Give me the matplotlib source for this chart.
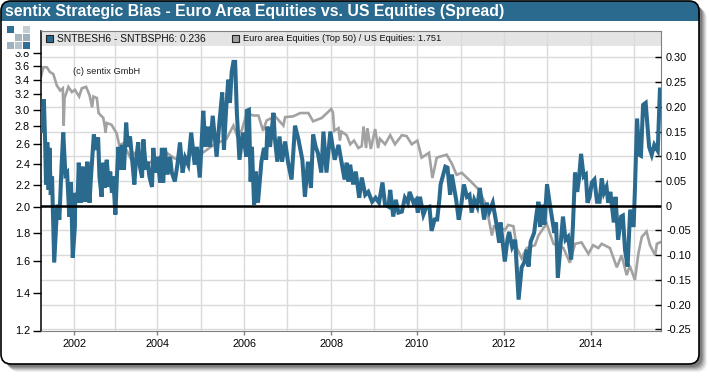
import matplotlib
matplotlib.use("Agg")
import matplotlib.pyplot as plt
from matplotlib.patches import FancyBboxPatch, Rectangle
from matplotlib.ticker import NullLocator

plt.rcParams["font.family"] = ["Liberation Sans", "DejaVu Sans"]

title = "sentix Strategic Bias - Euro Area Equities vs. US Equities (Spread)"
blue_label = "SNTBESH6 - SNTBSPH6: 0.236"
gray_label = "Euro area Equities (Top 50) / US Equities: 1.751"
credit = "(c) sentix GmbH"

blue_years = [
    2001.23, 2001.26, 2001.30, 2001.33, 2001.35, 2001.38, 2001.41, 2001.43, 2001.46, 2001.49,
    2001.54, 2001.58, 2001.61, 2001.66, 2001.71, 2001.75, 2001.80, 2001.84, 2001.89, 2001.93,
    2001.97, 2002.02, 2002.03, 2002.08, 2002.11, 2002.16, 2002.20, 2002.25, 2002.28, 2002.31,
    2002.36, 2002.39, 2002.46, 2002.51, 2002.56, 2002.59, 2002.64, 2002.68, 2002.72, 2002.76,
    2002.81, 2002.84, 2002.88, 2002.91, 2002.96, 2003.00, 2003.03, 2003.07, 2003.11, 2003.16,
    2003.21, 2003.25, 2003.30, 2003.35, 2003.40, 2003.44, 2003.49, 2003.53, 2003.58, 2003.61,
    2003.67, 2003.71, 2003.75, 2003.81, 2003.84, 2003.89, 2003.94, 2004.00, 2004.04, 2004.07,
    2004.11, 2004.17, 2004.23, 2004.27, 2004.34, 2004.40, 2004.46, 2004.52, 2004.58, 2004.65,
    2004.72, 2004.80, 2004.85, 2004.92, 2005.00, 2005.05, 2005.11, 2005.16, 2005.22, 2005.31,
    2005.37, 2005.44, 2005.48, 2005.53, 2005.58, 2005.62, 2005.66, 2005.70, 2005.74, 2005.78,
    2005.84, 2005.92, 2006.00, 2006.01, 2006.06, 2006.10, 2006.13, 2006.18, 2006.22, 2006.27,
    2006.35, 2006.41, 2006.46, 2006.49, 2006.55, 2006.63, 2006.66, 2006.72, 2006.77, 2006.83,
    2006.90, 2006.97, 2007.05, 2007.13, 2007.21, 2007.30, 2007.36, 2007.43, 2007.50, 2007.55,
    2007.61, 2007.66, 2007.74, 2007.79, 2007.86, 2007.95, 2008.05, 2008.14, 2008.20, 2008.28,
    2008.33, 2008.37, 2008.41, 2008.48, 2008.54, 2008.62, 2008.68, 2008.76, 2008.83, 2008.92,
    2009.00, 2009.08, 2009.16, 2009.22, 2009.30, 2009.34, 2009.41, 2009.47, 2009.53, 2009.61,
    2009.68, 2009.75, 2009.79, 2009.88, 2009.94, 2009.98, 2010.03, 2010.11, 2010.17, 2010.25,
    2010.30, 2010.37, 2010.43, 2010.48, 2010.51, 2010.57, 2010.62, 2010.67, 2010.73, 2010.77,
    2010.87, 2010.93, 2010.98, 2011.05, 2011.12, 2011.18, 2011.23, 2011.29, 2011.36, 2011.42,
    2011.52, 2011.58, 2011.64, 2011.72, 2011.80, 2011.87, 2011.90, 2012.00, 2012.06, 2012.10,
    2012.17, 2012.24, 2012.32, 2012.39, 2012.45, 2012.51, 2012.55, 2012.60, 2012.68, 2012.74,
    2012.78, 2012.82, 2012.87, 2012.92, 2012.98, 2013.04, 2013.10, 2013.15, 2013.19, 2013.23,
    2013.29, 2013.35, 2013.41, 2013.47, 2013.54, 2013.58, 2013.63, 2013.68, 2013.72, 2013.77,
    2013.83, 2013.88, 2013.92, 2013.97, 2014.02, 2014.08, 2014.14, 2014.20, 2014.25, 2014.30,
    2014.36, 2014.40, 2014.45, 2014.53, 2014.57, 2014.63, 2014.70, 2014.74, 2014.79, 2014.85,
    2014.91, 2014.99, 2015.02, 2015.07, 2015.12, 2015.16, 2015.21, 2015.27, 2015.35, 2015.41,
    2015.47, 2015.55, 2015.60,
]
blue_values = [
    .194, .148, .215, .128, .043, .128, .032, .117, .022, .059,
    -.115, -.049, .002, -.028, .079, .148, .063, .067, -.022, .047,
    -.105, -.043, .026, .006, .087, .006, .079, .008, .059, .089,
    .006, .053, .144, .113, .138, .059, .018, .087, .036, .093,
    .038, .069, .026, .059, -.018, .067, .119, .073, .123, .073,
    .168, .119, .140, .093, .043, .093, .128, .079, .057, .134,
    .073, .089, .059, .038, .117, .067, .099, .047, .117, .047,
    .117, .063, .099, .067, .049, .083, .128, .067, .097, .083,
    .148, .083, .119, .057, .192, .119, .160, .119, .182, .099,
    .164, .229, .113, .194, .255, .208, .271, .291, .291, .188,
    .093, .148, .099, .192, .194, .049, .119, .002, .069, .006,
    .089, .117, .093, .160, .119, .188, .138, .089, .140, .089,
    .130, .087, .053, .162, .134, .093, .018, .089, .036, .144,
    .119, .107, .067, .150, .067, .150, .093, .123, .093, .053,
    .087, .049, .083, .043, .069, .016, .057, .022, .028, .008,
    .016, .006, .047, .002, -.002, .032, -.022, .012, -.014, -.012,
    .016, .006, .028, .006, .012, -.014, .018, -.018, -.004, -.002,
    -.051, -.028, -.028, .012, .043, .063, .079, .077, .022, .063,
    .012, -.028, -.004, .043, .018, .022, -.014, .012, -.002, .036,
    -.028, .006, -.012, .006, -.034, -.075, -.034, -.113, -.069, -.053,
    -.083, -.069, -.190, -.125, -.115, -.089, -.123, -.073, -.055, -.014,
    .008, -.043, .002, -.038, .043, .006, -.028, -.055, -.034, -.146,
    -.083, -.022, -.069, -.063, -.109, -.043, .067, .028, .053, .105,
    .059, .063, .006, .018, .047, .053, .008, .008, .055, .026,
    .038, .006, .028, -.034, .018, -.069, -.022, -.020, -.089, -.123,
    -.008, -.043, .032, .176, .103, .101, .204, .208, .119, .103,
    .123, .111, .235,
]

gray_years = [
    2001.23, 2001.29, 2001.37, 2001.44, 2001.52, 2001.60, 2001.68, 2001.74, 2001.76, 2001.78,
    2001.87, 2001.95, 2002.02, 2002.12, 2002.18, 2002.28, 2002.36, 2002.42, 2002.45, 2002.53,
    2002.57, 2002.68, 2002.72, 2002.73, 2002.76, 2002.87, 2002.99, 2003.05, 2003.14, 2003.34,
    2003.38, 2003.72, 2004.15, 2004.34, 2004.53, 2004.76, 2004.99, 2005.23, 2005.54, 2005.70,
    2005.78, 2005.89, 2006.01, 2006.16, 2006.28, 2006.39, 2006.47, 2006.67, 2006.86, 2006.90,
    2007.09, 2007.25, 2007.44, 2007.55, 2007.75, 2007.87, 2007.97, 2008.01, 2008.04, 2008.14,
    2008.17, 2008.21, 2008.33, 2008.41, 2008.50, 2008.60, 2008.68, 2008.72, 2008.78, 2008.81,
    2008.89, 2008.99, 2009.06, 2009.10, 2009.22, 2009.34, 2009.45, 2009.61, 2009.72, 2009.84,
    2009.97, 2010.07, 2010.24, 2010.32, 2010.42, 2010.65, 2010.77, 2010.88, 2011.00, 2011.23,
    2011.38, 2011.54, 2011.62, 2011.70, 2011.75, 2011.89, 2012.00, 2012.08, 2012.20, 2012.28,
    2012.39, 2012.51, 2012.70, 2012.78, 2012.97, 2013.13, 2013.22, 2013.36, 2013.51, 2013.63,
    2013.78, 2013.94, 2014.05, 2014.17, 2014.25, 2014.44, 2014.60, 2014.71, 2014.83, 2014.90,
    2015.02, 2015.10, 2015.18, 2015.29, 2015.37, 2015.49, 2015.53, 2015.60,
]
gray_values = [
    3.44, 3.58, 3.58, 3.51, 3.48, 3.32, 3.25, 3.28, 2.81, 3.15,
    3.30, 3.23, 3.26, 3.17, 3.28, 3.30, 3.19, 3.03, 3.17, 3.15,
    2.96, 2.90, 2.78, 2.73, 2.84, 2.82, 2.72, 2.59, 2.61, 2.43,
    2.51, 2.40, 2.51, 2.45, 2.45, 2.50, 2.51, 2.59, 2.66, 2.81,
    2.70, 2.75, 2.96, 2.93, 2.93, 2.75, 2.87, 2.92, 2.81, 2.91,
    2.92, 2.96, 2.96, 2.86, 2.90, 2.96, 3.01, 2.97, 2.75, 2.78,
    2.64, 2.74, 2.70, 2.60, 2.64, 2.56, 2.58, 2.80, 2.56, 2.78,
    2.55, 2.77, 2.56, 2.66, 2.60, 2.70, 2.60, 2.70, 2.69, 2.60,
    2.64, 2.46, 2.51, 2.26, 2.46, 2.49, 2.40, 2.29, 2.31, 2.22,
    2.16, 2.04, 1.92, 1.78, 1.85, 1.85, 1.82, 1.86, 1.85, 1.69,
    1.62, 1.69, 1.71, 1.78, 1.87, 1.72, 1.71, 1.69, 1.59, 1.72,
    1.73, 1.65, 1.71, 1.69, 1.72, 1.69, 1.56, 1.64, 1.51, 1.57,
    1.48, 1.65, 1.77, 1.81, 1.71, 1.64, 1.72, 1.73,
]

left_ticks = [1.2, 1.4, 1.6, 1.8, 2.0, 2.2, 2.4, 2.6, 2.8, 3.0, 3.2, 3.4, 3.6, 3.8]
right_ticks = [-0.25, -0.20, -0.15, -0.10, -0.05, 0, 0.05, 0.10, 0.15, 0.20, 0.25, 0.30]
right_labels = ["-0.25", "-0.20", "-0.15", "-0.10", "-0.05", "0", "0.05", "0.10", "0.15", "0.20", "0.25", "0.30"]
# year starts as they fall on the reference's slightly uneven time axis
grid_years = [2002.00, 2002.95, 2003.93, 2004.95, 2005.95, 2006.94, 2007.97,
              2008.96, 2009.96, 2010.98, 2011.98, 2012.98, 2014.00, 2015.00]
label_positions = [2002.00, 2003.93, 2005.95, 2007.97, 2009.96, 2011.98, 2014.00]
label_years = ["2002", "2004", "2006", "2008", "2010", "2012", "2014"]

BLUE = "#2a6a8e"
GRAY = "#a2a2a2"
W, H = 710, 376

fig = plt.figure(figsize=(W / 100, H / 100), dpi=100, facecolor="white")

# panel drawn in pixel coordinates, y going down
bg = fig.add_axes([0, 0, 1, 1], zorder=0)
bg.set_xlim(0, W)
bg.set_ylim(H, 0)
bg.axis("off")

for off, alpha in [(8, 0.06), (7, 0.08), (6, 0.10), (5, 0.12), (4, 0.14), (3, 0.16)]:
    bg.add_patch(FancyBboxPatch((1 + off, 1 + off), 698, 363, boxstyle="round,pad=0,rounding_size=10",
                                fc="black", ec="none", alpha=alpha))
frame = FancyBboxPatch((1, 1), 698, 363, boxstyle="round,pad=0,rounding_size=10",
                       fc="white", ec="none")
bg.add_patch(frame)
bar = Rectangle((0, 0), 700, 21, fc=BLUE, ec="none")
bg.add_patch(bar)
bar.set_clip_path(frame)
bg.add_patch(FancyBboxPatch((1, 1), 698, 363, boxstyle="round,pad=0,rounding_size=10",
                            fc="none", ec="black", lw=1.2))
bg.text(5, 11.5, title, color="white", fontsize=11.4, fontweight="bold", va="center", ha="left")

rect = [40.5 / W, (H - 330.5) / H, 620 / W, 300 / H]
x_lo, x_hi = 2001.222, 2015.614
right_lim = (-0.2525, 0.3545)
left_lim = (1.2, 4.17)

# grid and legend band sit behind both series
back = fig.add_axes(rect, zorder=1)
back.set_xlim(x_lo, x_hi)
back.set_ylim(*right_lim)
back.set_xticks(grid_years)
back.set_yticks(right_ticks)
back.tick_params(length=0, labelbottom=False, labelleft=False)
back.grid(True, color="#dadada", lw=1.0)
back.set_axisbelow(True)
for s in back.spines.values():
    s.set_visible(False)
back.add_patch(Rectangle((0, 0.95), 1, 0.05, transform=back.transAxes, fc="#e4e4e4", ec="none", zorder=0.5))

ax = fig.add_axes(rect, zorder=2)
ax.patch.set_visible(False)
ax.plot(gray_years, gray_values, color=GRAY, lw=1.9, solid_joinstyle="miter")
ax.set_yscale("log")
ax.set_xlim(x_lo, x_hi)
ax.set_ylim(*left_lim)
ax.yaxis.set_minor_locator(NullLocator())
ax.set_yticks(left_ticks)
ax.set_yticklabels([f"{v:.1f}" for v in left_ticks])
ax.set_xticks(label_positions)
ax.set_xticklabels(label_years)
ax.tick_params(axis="y", which="major", length=6, width=1, labelsize=7.8, pad=1.5, color="black")
ax.tick_params(axis="x", length=3, width=1, labelsize=7.8, pad=3, color="#808080")
for name in ["top", "bottom", "right"]:
    ax.spines[name].set_color("#808080")
ax.spines["left"].set_color("black")
ax.spines["left"].set_linewidth(1.1)

axr = ax.twinx()
axr.set_zorder(3)
axr.patch.set_visible(False)
axr.plot(blue_years, blue_values, color=BLUE, lw=2.9, solid_joinstyle="miter", zorder=3)
axr.axhline(0, color="black", lw=1.8, zorder=4)
axr.set_ylim(*right_lim)
axr.set_yticks(right_ticks)
axr.set_yticklabels(right_labels)
axr.tick_params(axis="y", direction="in", length=4, width=1, labelsize=7.8, pad=4, color="black")
for s in axr.spines.values():
    s.set_visible(False)

# legend row, logo and credit on top of everything
top = fig.add_axes([0, 0, 1, 1], zorder=5)
top.set_xlim(0, W)
top.set_ylim(H, 0)
top.axis("off")
# the 3.8 label is cut off by the header region
top.add_patch(Rectangle((12, 45), 21, 7, fc="white", ec="none"))
for (x, y, c) in [(7, 26, "#2f6f95"), (23, 26, "#c3ced5"),
                  (15, 34, "#a8b6bf"), (23, 34, "#9fb0ba"),
                  (7, 42, "#9db1bf"), (15, 42, "#b4c3cc"), (23, 42, "#2f6f95")]:
    top.add_patch(Rectangle((x, y), 7, 7, fc=c, ec="none"))
top.add_patch(Rectangle((45.5, 34.5), 7.5, 7.5, fc=BLUE, ec="#222222", lw=0.8))
top.text(57, 38.5, blue_label, fontsize=7.35, va="center", ha="left", color="#111111")
top.add_patch(Rectangle((231.5, 34.5), 7.5, 7.5, fc=GRAY, ec="#222222", lw=0.8))
top.text(243, 38.5, gray_label, fontsize=6.7, va="center", ha="left", color="#111111")
top.text(73, 71, credit, fontsize=6.7, va="center", ha="left", color="#222222")

fig.savefig("out.png", dpi=100, facecolor="white")
